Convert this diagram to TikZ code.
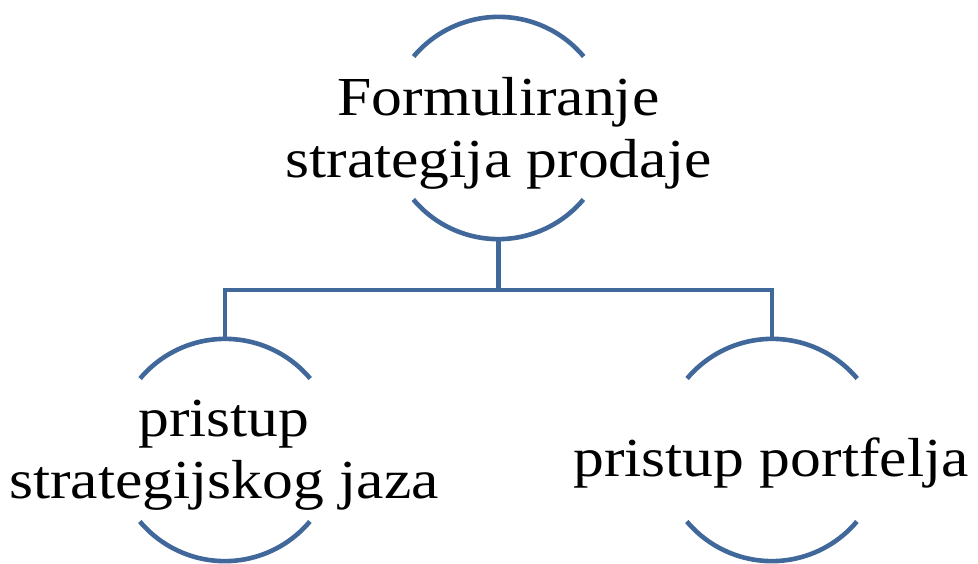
\documentclass[tikz,border=0pt]{standalone}
\usepackage{fontspec}
\setmainfont[FakeStretch=1.12]{Liberation Serif}
\definecolor{arcblue}{HTML}{41689B}
\begin{document}
\begin{tikzpicture}[x=1pt,y=1pt,
  ring/.style={circle,draw=none,inner sep=0pt,minimum size=222pt},
  arcline/.style={draw=arcblue,line width=4.6pt},
  conn/.style={draw=arcblue,line width=4.6pt},
  lbl/.style={align=center,font=\fontsize{55}{62}\selectfont,text=black,inner sep=0pt}]
\useasboundingbox (0,0) rectangle (978,563);
\node[ring] (top) at (498.5,435) {};
\node[ring] (left) at (225,113) {};
\node[ring] (right) at (772,113) {};
\foreach \n in {top,left,right}{
  \draw[arcline] (\n.40) arc[start angle=40,end angle=140,radius=111pt];
  \draw[arcline] (\n.220) arc[start angle=220,end angle=320,radius=111pt];
}
\coordinate (j) at (498.5,273);
\draw[conn] (top.south) -- (j);
\draw[conn] (left.north) |- (j) -| (right.north);
\node[lbl] (ttop) at (498.5,430) {Formuliranje\\strategija prodaje};
\node[lbl] (tleft) at (224,108) {pristup\\strategijskog jaza};
\node[lbl] (tright) at (771,100) {pristup portfelja};
\end{tikzpicture}
\end{document}
